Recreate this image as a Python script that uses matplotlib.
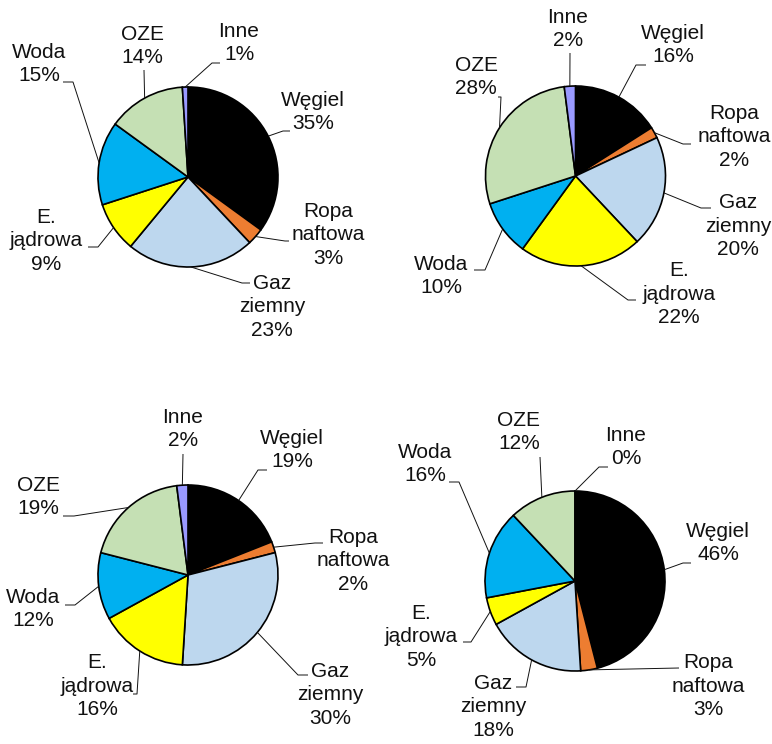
import matplotlib.pyplot as plt
import numpy as np

plt.rcParams['font.family'] = ['Liberation Sans', 'DejaVu Sans']

categories = ['Węgiel', 'Ropa\nnaftowa', 'Gaz\nziemny', 'E.\njądrowa', 'Woda', 'OZE', 'Inne']
colors = ['#000000', '#ED7D31', '#BDD7EE', '#FFFF00', '#00B0F0', '#C5E0B4', '#9999FF']

shares_1 = [35, 3, 23, 9, 15, 14, 1]
shares_2 = [16, 2, 20, 22, 10, 28, 2]
shares_3 = [19, 2, 30, 16, 12, 19, 2]
shares_4 = [46, 3, 18, 5, 16, 12, 0]

# layout in pixels: pie centre, then per slice (label centre, elbow of leader, end of leader)
layouts = [
    dict(center=(188, 177), labels=[
        ((313, 112), (283, 131), (290, 131)),
        ((328, 235), (285, 241), (289, 241)),
        ((272, 307), (242, 283), (250, 283)),
        ((46, 241), (98, 247), (88, 247)),
        ((39, 64), (73, 82), (63, 82)),
        ((142, 46), (144, 70), (144, 70)),
        ((239, 43), (212, 63), (220, 63)),
    ]),
    dict(center=(575.5, 176), labels=[
        ((673, 45), (636, 65), (646, 65)),
        ((734, 137), (683, 144), (691, 144)),
        ((738, 226), (701, 208), (711, 208)),
        ((679, 294), (628, 300), (636, 300)),
        ((441, 276), (485, 270), (474, 270)),
        ((476, 77), (501, 97), (498, 97)),
        ((568, 29), (570, 53), (570, 53)),
    ]),
    dict(center=(188, 575), labels=[
        ((292, 450), (258, 470), (267, 470)),
        ((353, 561), (315, 543), (323, 543)),
        ((330, 695), (298, 675), (308, 675)),
        ((97, 686), (137, 694), (133, 694)),
        ((33, 609), (75, 605), (65, 605)),
        ((38, 497), (74, 516), (63, 516)),
        ((183, 429), (183, 454), (183, 454)),
    ]),
    dict(center=(575, 581), labels=[
        ((718, 543), (683, 563), (691, 563)),
        ((708, 686), (679, 668), (679, 668)),
        ((493, 707), (526, 687), (516, 687)),
        ((421, 637), (471, 642), (463, 642)),
        ((425, 464), (459, 482), (449, 482)),
        ((519, 432), (540, 457), (540, 457)),
        ((626, 447), (599, 467), (608, 467)),
    ]),
]
radius = 90

fig = plt.figure(figsize=(7.72, 7.44), dpi=100)
ax = fig.add_axes([0, 0, 1, 1])

for shares, lay in zip([shares_1, shares_2, shares_3, shares_4], layouts):
    cx, cy = lay['center']
    # y axis runs downward, so counterclock=True draws clockwise on screen
    ax.pie(shares, colors=colors, center=(cx, cy), radius=radius,
           startangle=-90, counterclock=True,
           wedgeprops=dict(edgecolor='black', linewidth=1.2))
    cum = np.cumsum([0] + shares[:-1])
    for name, v, c0, (txt, elbow, end) in zip(categories, shares, cum, lay['labels']):
        ang = np.deg2rad(-90 + 3.6 * (c0 + v / 2))
        start = (cx + radius * np.cos(ang), cy + radius * np.sin(ang))
        ax.plot([start[0], elbow[0], end[0]], [start[1], elbow[1], end[1]],
                color='#111111', lw=0.7, solid_capstyle='butt')
        ax.text(txt[0], txt[1], f'{name}\n{v:.0f}%', ha='center', va='center',
                fontsize=15, linespacing=1.27, color='#111111')

ax.set_xlim(0, 772)
ax.set_ylim(744, 0)
ax.set_aspect('equal')
ax.axis('off')

plt.savefig('out.png', dpi=100)
